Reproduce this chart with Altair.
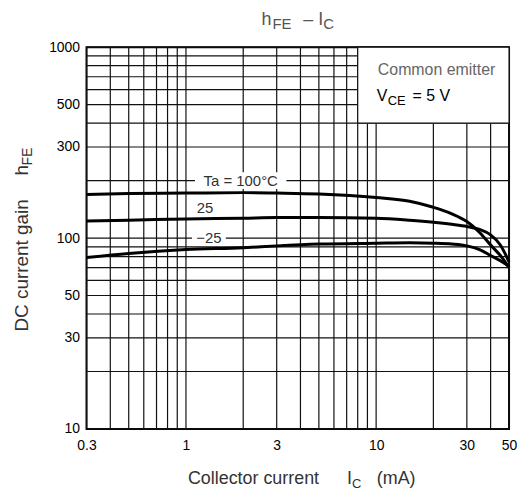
import altair as alt
import pandas as pd

FONT = "Liberation Sans"

# ---- data ----
current_mA = [0.3, 0.5, 1, 2, 3, 5, 10, 15, 20, 25, 30, 35, 40, 45, 50]
hfe_100 = [169, 171, 172, 173, 172, 170, 163, 156, 145, 134, 122, 107, 92, 81, 70]
hfe_25 = [123, 124, 126, 127, 128, 128, 127, 124, 121, 118, 115, 111, 104, 92, 75]
hfe_m25 = [79, 83, 87, 89, 91, 93, 94, 94.5, 94, 93, 91, 87, 81, 76, 71]

x_grid = [0.3, 0.4, 0.5, 0.6, 0.7, 0.8, 0.9, 1, 2, 3, 4, 5, 6, 7, 8, 9, 10, 20, 30, 40, 50]
y_grid = [10, 20, 30, 40, 50, 60, 70, 80, 90, 100, 200, 300, 400, 500, 600, 700, 800, 900, 1000]
x_ticks = [0.3, 1, 3, 10, 30, 50]
y_ticks = [10, 30, 50, 100, 300, 500, 1000]

curve_labels = ["Ta = 100°C", "25", "−25"]
label_I = [1.94, 1.26, 1.32]
label_h = [200, 144, 100]

cond_I = [8]
cond_I2 = [50]
cond_h = [400]
cond_h2 = [1000]

# ---- tables ----
curves = pd.DataFrame({
    "I": current_mA * 3,
    "h": hfe_100 + hfe_25 + hfe_m25,
    "Ta": ["100"] * len(current_mA) + ["25"] * len(current_mA) + ["-25"] * len(current_mA),
})
labels = pd.DataFrame({"label": curve_labels, "I": label_I, "h": label_h})
cond = pd.DataFrame({"I": cond_I, "I2": cond_I2, "h": cond_h, "h2": cond_h2})

xs = alt.Scale(type="log", domain=[0.3, 50], nice=False)
ys = alt.Scale(type="log", domain=[10, 1000], nice=False)

x_axis = alt.Axis(values=x_ticks, format="~g", title=None, ticks=False, domain=False, grid=False,
                  labelPadding=10, labelFlush=False, labelBound=False, labelOverlap=False)
y_axis = alt.Axis(values=y_ticks, format="~g", title=None, ticks=False, domain=False, grid=False,
                  labelPadding=7, labelOverlap=False, labelBound=False)

X = alt.X("I:Q", scale=xs, axis=x_axis)
Y = alt.Y("h:Q", scale=ys, axis=y_axis)

vgrid = alt.Chart(pd.DataFrame({"I": x_grid})).mark_rule(color="#111", strokeWidth=1.2).encode(x=X)
hgrid = alt.Chart(pd.DataFrame({"h": y_grid})).mark_rule(color="#111", strokeWidth=1.2).encode(y=Y)

box = alt.Chart(cond).mark_rect(fill="white", stroke="#111", strokeWidth=1.2).encode(
    x=X, x2="I2:Q", y=Y, y2="h2:Q")

lines = alt.Chart(curves).mark_line(color="black", strokeWidth=3, interpolate="monotone").encode(
    x=X, y=Y, detail="Ta:N")

bg_ta = alt.Chart(labels).transform_filter(alt.datum.label == "Ta = 100°C").mark_rect(
    color="white", width=92, height=17).encode(x=X, y=Y)
bg_m25 = alt.Chart(labels).transform_filter(alt.datum.label == "−25").mark_rect(
    color="white", width=34, height=15).encode(x=X, y=Y)

label_text = alt.Chart(labels).mark_text(font=FONT, fontSize=15, color="#333",
                                          align="center", baseline="middle").encode(
    x=X, y=Y, text="label:N")

def txt(s, px, py, size=18, color="black", angle=0):
    kw = dict(font=FONT, fontSize=size, color=color, align="left", baseline="alphabetic", text=s)
    if angle:
        kw["angle"] = angle
    return alt.Chart(pd.DataFrame({"a": [0]})).mark_text(**kw).encode(
        x=alt.value(px), y=alt.value(py))

annotations = [
    # chart title  hFE – IC
    txt("h", 176, -22, 18, "#555"),
    txt("FE", 187, -18, 15, "#555"),
    txt("–", 218, -22, 18, "#555"),
    txt("I", 233, -22, 18, "#555"),
    txt("C", 238, -18, 15, "#555"),
    # condition box
    txt("Common emitter", 293, 28, 16, "#666"),
    txt("V", 292, 54, 16),
    txt("CE", 303, 58, 13),
    txt("= 5 V", 328, 54, 16),
    # x title
    txt("Collector current", 102, 439, 18, "#333"),
    txt("I", 262, 439, 18, "#333"),
    txt("C", 267, 443, 13, "#333"),
    txt("(mA)", 292, 439, 18, "#333"),
    # y title
    txt("DC current gain", -59, 286, 19, "#333", 270),
    txt("h", -59, 129, 19, "#333", 270),
    txt("FE", -55, 119, 14, "#333", 270),
]

chart = alt.layer(vgrid, hgrid, box, lines, bg_ta, bg_m25, label_text, *annotations).properties(
    width=425, height=384,
    autosize=alt.AutoSizeParams(type="none"),
    padding={"left": 79, "top": 38, "right": 8, "bottom": 60},
    background="white",
).configure_view(stroke="black", strokeWidth=2).configure_axis(
    labelFont=FONT, labelFontSize=14, labelColor="black")

chart.save("out.html", embed_options={"renderer": "svg", "actions": False})
